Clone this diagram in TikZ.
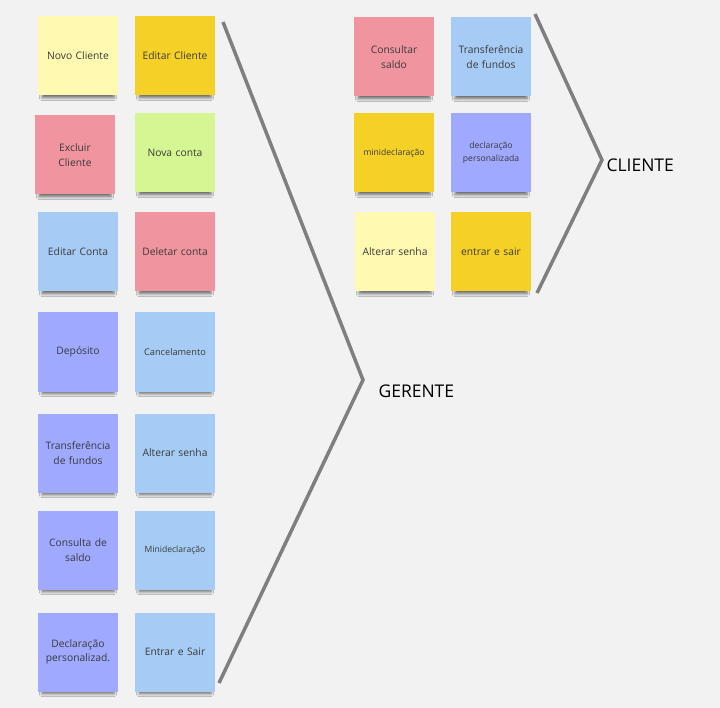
\documentclass[tikz,border=0pt]{standalone}
\usepackage{fontspec}
\setmainfont{Open Sans}
\usepackage{xcolor}
\usepackage{tikz}
\usetikzlibrary{shadows.blur}
\definecolor{pageBg}{HTML}{F2F2F2}
\definecolor{noteYellowLight}{HTML}{FFF9B1}
\definecolor{noteYellow}{HTML}{F5D128}
\definecolor{notePink}{HTML}{F0959F}
\definecolor{noteGreen}{HTML}{D5F692}
\definecolor{noteBlue}{HTML}{A6CCF5}
\definecolor{noteViolet}{HTML}{9EA9FF}
\definecolor{noteText}{HTML}{3A3A3A}
\definecolor{braceGray}{HTML}{7F7F7F}

\tikzset{
  note/.style={minimum width=79pt, minimum height=79pt, inner sep=2pt, text width=76pt, align=center,
    text=noteText, font=\fontsize{10.3}{14.5}\selectfont,
    blur shadow={shadow xshift=0pt, shadow yshift=-7pt, shadow scale=0.9, shadow opacity=55,
      shadow blur radius=3pt, shadow blur steps=6}},
  small/.style={font=\fontsize{8.6}{12.5}\selectfont},
  bracket/.style={draw=braceGray, line width=3.5pt, line join=miter},
  group/.style={anchor=west, text=black, font=\fontsize{17.5}{20}\selectfont}
}

\begin{document}
\begin{tikzpicture}[x=1pt, y=-1pt]
  \fill[pageBg] (0,0) rectangle (720,708);
  \useasboundingbox (0,0) rectangle (720,708);

  % gerente
  \node[note, fill=noteYellowLight] (novoCliente) at (78,56) {Novo Cliente};
  \node[note, fill=noteYellow] (editarCliente) at (175,56) {Editar Cliente};
  \node[note, fill=notePink] (excluirCliente) at (75,155) {Excluir\\Cliente};
  \node[note, fill=noteGreen] (novaConta) at (175,153) {Nova conta};
  \node[note, fill=noteBlue] (editarConta) at (78,252) {Editar Conta};
  \node[note, fill=notePink] (deletarConta) at (175,252) {Deletar conta};
  \node[note, fill=noteViolet] (deposito) at (78,352) {Depósito};
  \node[note, fill=noteBlue, font=\fontsize{9.2}{12}\selectfont] (cancelamento) at (175,352) {Cancelamento};
  \node[note, fill=noteViolet] (transfGer) at (78,453) {Transferência\\de fundos};
  \node[note, fill=noteBlue] (senhaGer) at (175,453) {Alterar senha};
  \node[note, fill=noteViolet] (consultaGer) at (78,550) {Consulta de\\saldo};
  \node[note, fill=noteBlue, small] (miniGer) at (175,550) {Minideclaração};
  \node[note, fill=noteViolet] (declGer) at (78,652) {Declaração\\personalizad.};
  \node[note, fill=noteBlue] (entrarGer) at (175,652) {Entrar e Sair};

  % cliente
  \node[note, fill=notePink] (consultaCli) at (394,57) {Consultar\\saldo};
  \node[note, fill=noteBlue] (transfCli) at (491,57) {Transferência\\de fundos};
  \node[note, fill=noteYellow, small] (miniCli) at (394,153) {minideclaração};
  \node[note, fill=noteViolet, small] (declCli) at (491,153) {declaração\\personalizada};
  \node[note, fill=noteYellowLight] (senhaCli) at (395,252) {Alterar senha};
  \node[note, fill=noteYellow] (entrarCli) at (491,252) {entrar e sair};

  % brackets
  \coordinate (gerTop) at (223,22);
  \coordinate (gerTip) at (363,380);
  \coordinate (gerBottom) at (219,683);
  \draw[bracket] (gerTop) -- (gerTip) -- (gerBottom);
  \node[group] (gerente) at (375,391) {GERENTE};

  \coordinate (cliTop) at (535,14);
  \coordinate (cliTip) at (602,160);
  \coordinate (cliBottom) at (537,293);
  \draw[bracket] (cliTop) -- (cliTip) -- (cliBottom);
  \node[group] (cliente) at (603,165) {CLIENTE};
\end{tikzpicture}
\end{document}
